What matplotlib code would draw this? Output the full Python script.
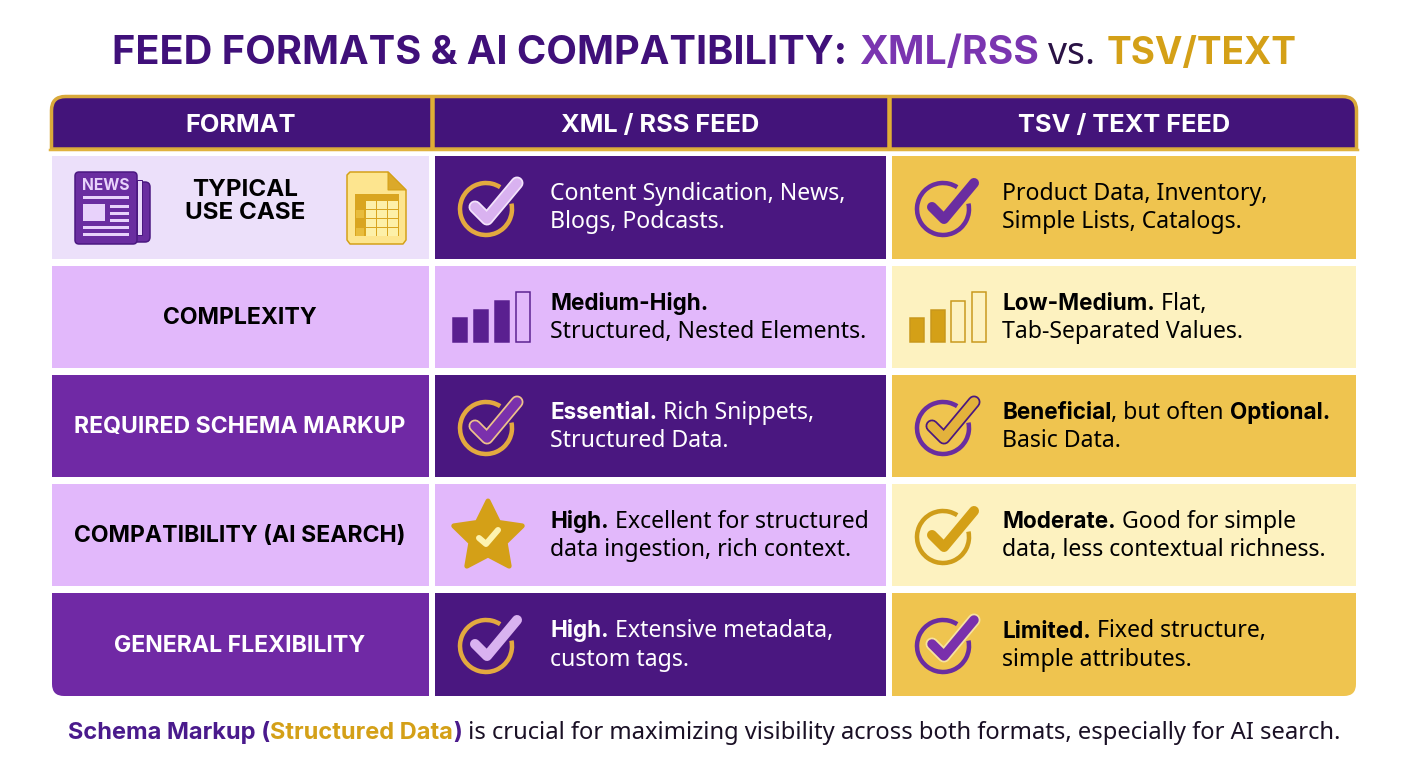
import numpy as np
import matplotlib
matplotlib.use('Agg')
import matplotlib.pyplot as plt
from matplotlib.patches import Arc, PathPatch, Polygon, Rectangle, FancyBboxPatch
from matplotlib.path import Path

HEAD_FONT = ['Inter', 'DejaVu Sans']
BODY_FONT = ['Noto Sans', 'DejaVu Sans']

PURPLE_DARK = '#4a1780'
PURPLE_HEAD = '#43147a'
PURPLE_MID = '#7029a5'
LILAC = '#e2b8fb'
LILAC_PALE = '#ece0fa'
GOLD = '#efc44f'
GOLD_PALE = '#fdf2c0'
GOLD_DARK = '#d4a017'
RING_GOLD = '#e3a93f'

title_parts = ['FEED FORMATS & AI COMPATIBILITY:', 'XML/RSS', 'vs.', 'TSV/TEXT']
headers = ['FORMAT', 'XML / RSS FEED', 'TSV / TEXT FEED']
row_labels = ['TYPICAL\nUSE CASE', 'COMPLEXITY', 'REQUIRED SCHEMA MARKUP',
              'COMPATIBILITY (AI SEARCH)', 'GENERAL FLEXIBILITY']

# text between * is bold
xml_text = [
    ['Content Syndication, News,', 'Blogs, Podcasts.'],
    ['*Medium-High.*', 'Structured, Nested Elements.'],
    ['*Essential.* Rich Snippets,', 'Structured Data.'],
    ['*High.* Excellent for structured', 'data ingestion, rich context.'],
    ['*High.* Extensive metadata,', 'custom tags.'],
]
tsv_text = [
    ['Product Data, Inventory,', 'Simple Lists, Catalogs.'],
    ['*Low-Medium.* Flat,', 'Tab-Separated Values.'],
    ['*Beneficial*, but often *Optional.*', 'Basic Data.'],
    ['*Moderate.* Good for simple', 'data, less contextual richness.'],
    ['*Limited.* Fixed structure,', 'simple attributes.'],
]
footer_parts = ['Schema Markup (', 'Structured Data', ')',
                ' is crucial for maximizing visibility across both formats, especially for AI search.']

level_heights = [24, 32, 41, 50]
xml_level_filled = [True, True, True, False]
tsv_level_filled = [True, True, False, False]

title_x = [112, 859, 1048, 1107]
title_size = [28.6, 28.2, 27, 26.6]
title_weight = ['bold', 'bold', 'normal', 'bold']
title_color = ['#40107a', '#7a35b0', '#2a1245', GOLD_DARK]
footer_weight = ['bold', 'bold', 'bold', 'normal']
footer_color = ['#4a1a8c', GOLD_DARK, '#4a1a8c', '#1a1025']

col_x = [(52, 429), (435, 886), (892, 1356)]
row_y = [(156, 259), (266, 368), (375, 477), (484, 586), (593, 696)]
col1_fill = [LILAC_PALE, LILAC, PURPLE_MID, LILAC, PURPLE_MID]
col1_color = ['black', 'black', 'white', 'black', 'white']
xml_fill = [PURPLE_DARK, LILAC, PURPLE_DARK, LILAC, PURPLE_DARK]
xml_color = ['white', 'black', 'white', 'black', 'white']
tsv_fill = [GOLD, GOLD_PALE, GOLD, GOLD_PALE, GOLD]

fig = plt.figure(figsize=(14.08, 7.68), dpi=100)
ax = fig.add_axes([0, 0, 1, 1])
ax.set_xlim(0, 1408)
ax.set_ylim(768, 0)
ax.axis('off')
renderer = fig.canvas.get_renderer()


def px(v):
    return v * 0.72


def round_rect(x0, y0, x1, y1, tl=0, tr=0, br=0, bl=0):
    verts = [(x0 + tl, y0), (x1 - tr, y0), (x1, y0), (x1, y0 + tr), (x1, y1 - br), (x1, y1),
             (x1 - br, y1), (x0 + bl, y1), (x0, y1), (x0, y1 - bl), (x0, y0 + tl), (x0, y0),
             (x0 + tl, y0), (x0 + tl, y0)]
    codes = [Path.MOVETO, Path.LINETO, Path.CURVE3, Path.CURVE3, Path.LINETO, Path.CURVE3, Path.CURVE3,
             Path.LINETO, Path.CURVE3, Path.CURVE3, Path.LINETO, Path.CURVE3, Path.CURVE3, Path.CLOSEPOLY]
    return Path(verts, codes)


def advance(s, **kw):
    t = ax.text(0, 0, s + '.', **kw)
    d = ax.text(0, 0, '.', **kw)
    w = t.get_window_extent(renderer).width - d.get_window_extent(renderer).width
    t.remove()
    d.remove()
    return w


def draw_lines(x, yc, lines, color, leading=28):
    for i, line in enumerate(lines):
        y = yc + (i - 0.5) * leading + 8
        cur = x
        for k, s in enumerate(line.split('*')):
            if not s:
                continue
            bold = k % 2 == 1
            kw = dict(fontsize=16.2 if bold else 16.6, family=HEAD_FONT if bold else BODY_FONT,
                      fontweight='bold' if bold else 'normal')
            ax.text(cur, y, s, color=color, va='baseline', ha='left', **kw)
            cur += advance(s, **kw)


def check(cx, cy, ring, tick, edge=None):
    ax.add_patch(Arc((cx, cy), 52, 52, theta1=-12, theta2=303, color=ring, lw=px(4.5)))
    pts = np.array([(-11, -2), (1, 10), (31, -26)]) + (cx, cy)
    if edge:
        ax.plot(pts[:, 0], pts[:, 1], color=edge, lw=px(13), solid_capstyle='round', solid_joinstyle='round')
    ax.plot(pts[:, 0], pts[:, 1], color=tick, lw=px(9.5 if edge else 10), solid_capstyle='round', solid_joinstyle='round')


def levels(xs, heights, filled, fill, edge):
    for x, h, f in zip(xs, heights, filled):
        ax.bar(x, -h, width=14, bottom=342, align='edge', color=fill if f else 'none',
               edgecolor=edge, lw=px(1.5))


def star(cx, cy, R, color):
    ang = np.deg2rad(-90 + 36 * np.arange(10))
    r = np.where(np.arange(10) % 2 == 0, R, R * 0.5)
    ax.add_patch(Polygon(np.c_[cx + r * np.cos(ang), cy + r * np.sin(ang)], closed=True,
                         fc=color, ec=color, lw=px(5), joinstyle='round'))
    pts = np.array([(-9, 1), (-2, 7), (10, -7)]) + (cx, cy)
    ax.plot(pts[:, 0], pts[:, 1], color='#fdf3b0', lw=px(6), solid_capstyle='round', solid_joinstyle='round')


def news_icon():
    c = '#6a2da0'
    ec = '#4a1780'
    ax.add_patch(FancyBboxPatch((128, 182), 22, 60, boxstyle='round,pad=0,rounding_size=5', fc=c, ec=ec, lw=px(1.5)))
    ax.add_patch(Rectangle((137, 180), 5, 55, fc='#ead8fb', ec=ec, lw=px(1)))
    ax.add_patch(FancyBboxPatch((75, 172), 62, 72, boxstyle='round,pad=0,rounding_size=4', fc=c, ec=ec, lw=px(1.5)))
    ax.text(106, 186, 'NEWS', color='#e8d2fb', fontsize=11.2, fontweight='bold', family=HEAD_FONT, ha='center', va='center')
    pale = '#e8d2fb'
    ax.add_patch(Rectangle((83, 196), 46, 2.5, fc=pale, lw=0))
    ax.add_patch(Rectangle((83, 204), 22, 17, fc=pale, lw=0))
    for y in (205, 212, 219):
        ax.add_patch(Rectangle((110, y), 19, 2.5, fc=pale, lw=0))
    for y in (226, 233):
        ax.add_patch(Rectangle((83, y), 46, 2.5, fc=pale, lw=0))


def sheet_icon():
    ec = '#d4a017'
    verts = [(350, 172), (388, 172), (406, 190), (406, 240), (403, 244), (350, 244), (347, 240), (347, 175), (350, 172)]
    ax.add_patch(Polygon(verts, closed=True, fc='#fde58f', ec=ec, lw=px(1.5), joinstyle='round'))
    ax.add_patch(Polygon([(388, 172), (406, 190), (388, 190)], closed=True, fc='#dba92a', ec=ec, lw=px(1)))
    ax.add_patch(Rectangle((355, 194), 44, 42, fc='#d9a520', lw=0))
    for i in range(4):
        for j in range(3):
            ax.add_patch(Rectangle((366 + j * 11, 201 + i * 9), 9.5, 7.5, fc='#fdf0a8', lw=0))
    for i in (1, 3):
        ax.add_patch(Rectangle((356, 201 + i * 9), 8, 7.5, fc='#e8bc3c', lw=0))


# title
for s, x, size, weight, color in zip(title_parts, title_x, title_size, title_weight, title_color):
    ax.text(x, 50, s, color=color, fontsize=size, fontweight=weight,
            family=HEAD_FONT if weight == 'bold' else BODY_FONT, ha='left', va='center_baseline')

# header band
ax.add_patch(PathPatch(round_rect(51.5, 96.5, 1356.5, 149, tl=14, tr=14), fc=PURPLE_HEAD, ec='#d9a93a', lw=px(3.5)))
ax.plot([50, 1358], [149.5, 149.5], color='#e0b23e', lw=px(2.5))
for x in (431.5, 888.5):
    ax.plot([x, x], [96, 150], color='#dfae35', lw=px(4.5), solid_capstyle='butt')
for (x0, x1), h in zip(col_x, headers):
    ax.text((x0 + x1) / 2, 123, h, color='white', fontsize=18.3, fontweight='bold', family=HEAD_FONT,
            ha='center', va='center_baseline')

# rows
for i, (y0, y1) in enumerate(row_y):
    last = i == len(row_y) - 1
    r = 12 if last else 0
    ax.add_patch(PathPatch(round_rect(col_x[0][0], y0, col_x[0][1], y1, bl=r), fc=col1_fill[i], lw=0))
    ax.add_patch(Rectangle((col_x[1][0], y0), col_x[1][1] - col_x[1][0], y1 - y0, fc=xml_fill[i], lw=0))
    ax.add_patch(PathPatch(round_rect(col_x[2][0], y0, col_x[2][1], y1, br=r), fc=tsv_fill[i], lw=0))
    yc = (y0 + y1) / 2
    if i == 0:
        ax.text(245, yc - 6, row_labels[i], color=col1_color[i], fontsize=17.4, fontweight='bold',
                family=HEAD_FONT, ha='center', va='center', linespacing=1.1)
    else:
        ax.text(240, yc + 1, row_labels[i], color=col1_color[i], fontsize=16.6, fontweight='bold',
                family=HEAD_FONT, ha='center', va='center')
    draw_lines(550, yc - 1, xml_text[i], xml_color[i])
    draw_lines(1002, yc - 1, tsv_text[i], 'black')

news_icon()
sheet_icon()

# status icons
check(486, 209, RING_GOLD, '#d9b2f0', edge='#f3e3fb')
check(943, 209, '#6a2da0', '#6a2da0')
levels([453, 474, 495, 516], level_heights, xml_level_filled, '#5a2090', '#5a2090')
levels([910, 930.5, 951, 971.5], level_heights, tsv_level_filled, GOLD_DARK, '#c9981c')
check(486, 428, RING_GOLD, '#7a30ac', edge='#eec28a')
check(943, 428, '#6a2da0', '#e3b23c', edge='#4a1780')
star(488, 537, 36, GOLD_DARK)
check(943, 537, '#cf9d1a', GOLD_DARK)
check(486, 646, RING_GOLD, '#d9b2f0')
check(943, 646, '#6a2da0', '#7a30ac', edge='#f7e3a0')

# footer
cur = 68
for s, weight, color in zip(footer_parts, footer_weight, footer_color):
    kw = dict(fontsize=17.0 if weight == 'bold' else 17.1, fontweight=weight,
              family=HEAD_FONT if weight == 'bold' else BODY_FONT)
    ax.text(cur, 739, s, color=color, ha='left', va='baseline', **kw)
    cur += advance(s, **kw)

fig.savefig('out.png', dpi=100, facecolor='white')
